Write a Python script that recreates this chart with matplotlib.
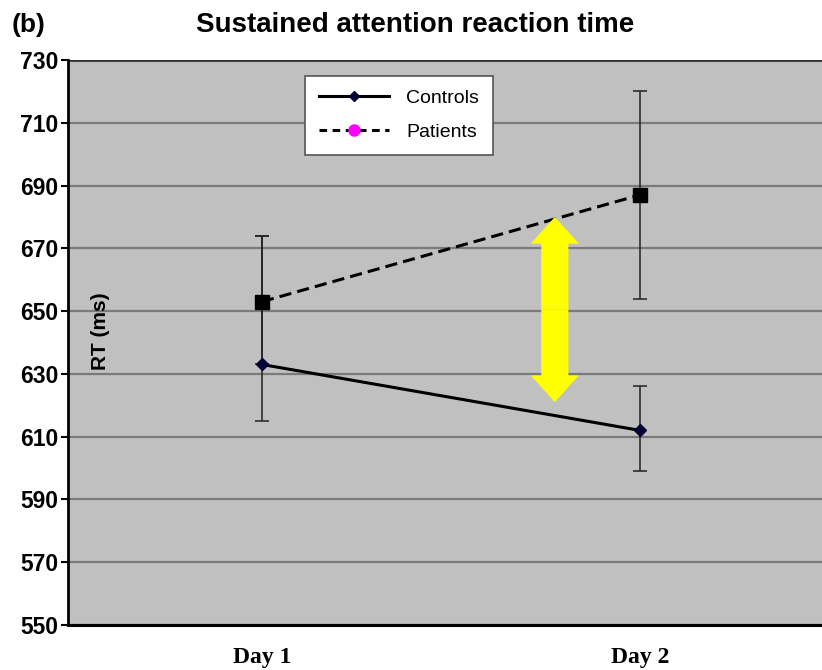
import numpy as np
import matplotlib
matplotlib.use("Agg")
import matplotlib.pyplot as plt
from matplotlib.lines import Line2D
from matplotlib.patches import FancyArrow

# Datos
dias = ["Day 1", "Day 2"]
controles = [633, 612]
controles_err_sup = [674, 626]
controles_err_inf = [615, 599]
pacientes = [653, 687]
pacientes_err_sup = [674, 720]
pacientes_err_inf = [633, 654]
flecha_y = [621, 680]
flecha_x = 0.775

fuente = ["Liberation Sans Narrow", "Liberation Sans", "DejaVu Sans"]

fig = plt.figure(figsize=(8.22, 6.7), dpi=100)
ax = fig.add_axes([68 / 822, 45 / 670, 754 / 822, 565 / 670])
ax.set_facecolor("#c0c0c0")

x = np.arange(len(dias))

# Barras de error
ax.errorbar(x, controles,
            yerr=[np.array(controles) - np.array(controles_err_inf),
                  np.array(controles_err_sup) - np.array(controles)],
            fmt="none", ecolor="#222222", elinewidth=1.1, capsize=5, capthick=1.1, zorder=3)
ax.errorbar(x, pacientes,
            yerr=[np.array(pacientes) - np.array(pacientes_err_inf),
                  np.array(pacientes_err_sup) - np.array(pacientes)],
            fmt="none", ecolor="#222222", elinewidth=1.1, capsize=5, capthick=1.1, zorder=3)

# Lineas
ax.plot(x, controles, color="black", lw=2.2, marker="D", ms=6.5,
        mfc="#000033", mec="#000033", zorder=4)
ax.plot(x, pacientes, color="black", lw=2.2, ls=(0, (4, 2)), marker="s", ms=10,
        mfc="black", mec="black", zorder=4)

# Flecha amarilla doble (dos flechas desde el centro)
medio = (flecha_y[0] + flecha_y[1]) / 2
mitad = (flecha_y[1] - flecha_y[0]) / 2
for signo in [1, -1]:
    ax.add_patch(FancyArrow(flecha_x, medio, 0, signo * mitad, width=0.072,
                            head_width=0.127, head_length=8.5,
                            length_includes_head=True, color="#ffff00", lw=0, zorder=5))

ax.set_xlim(-0.513, 1.482)
ax.set_ylim(550, 730)
ax.set_yticks(np.arange(550, 731, 20))
ax.set_xticks(x)
ax.set_xticklabels(dias, fontfamily="Liberation Serif", fontweight="bold", fontsize=17)
ax.tick_params(axis="x", length=0, pad=16)
ax.tick_params(axis="y", direction="out", length=5, width=1.5, pad=2)
for t in ax.get_yticklabels():
    t.set_fontfamily(fuente)
    t.set_fontweight("bold")
    t.set_fontsize(16.5)

ax.yaxis.grid(True, color="#7a7a7a", lw=1.6)
ax.set_axisbelow(True)
for s in ["top", "right"]:
    ax.spines[s].set_visible(False)
ax.spines["left"].set_linewidth(2)
ax.spines["bottom"].set_linewidth(2.2)
ax.axhline(730, color="#333333", lw=2, zorder=2)

ax.text(0.043, 0.52, "RT (ms)", transform=ax.transAxes, rotation=90,
        ha="center", va="center", fontsize=15, fontweight="bold", family=fuente)

# Leyenda
handles = [Line2D([0], [0], color="black", lw=2.2, marker="D", ms=5,
                  mfc="#000033", mec="#000033"),
           Line2D([0], [0], color="black", lw=2.2, ls=(0, (2.5, 1.8)), marker="o", ms=8,
                  mfc="#ff00ff", mec="#ff00ff")]
leg = ax.legend(handles, ["Controls", "Patients"], loc="upper left",
                bbox_to_anchor=(237 / 754, 0.972), frameon=True, fancybox=False,
                edgecolor="#555555", framealpha=1, handlelength=3.6,
                borderpad=0.7, labelspacing=0.85, handletextpad=0.9,
                borderaxespad=0,
                prop={"family": "Liberation Sans", "size": 14})
leg.get_frame().set_linewidth(1.2)

fig.text(12 / 822, 1 - 25 / 670, "(b)", fontsize=19, fontweight="bold", family=fuente,
         ha="left", va="center")
fig.text(415 / 822, 1 - 25 / 670, "Sustained attention reaction time", fontsize=20,
         fontweight="bold", family=fuente, ha="center", va="center")

fig.savefig("out.png", dpi=100)
